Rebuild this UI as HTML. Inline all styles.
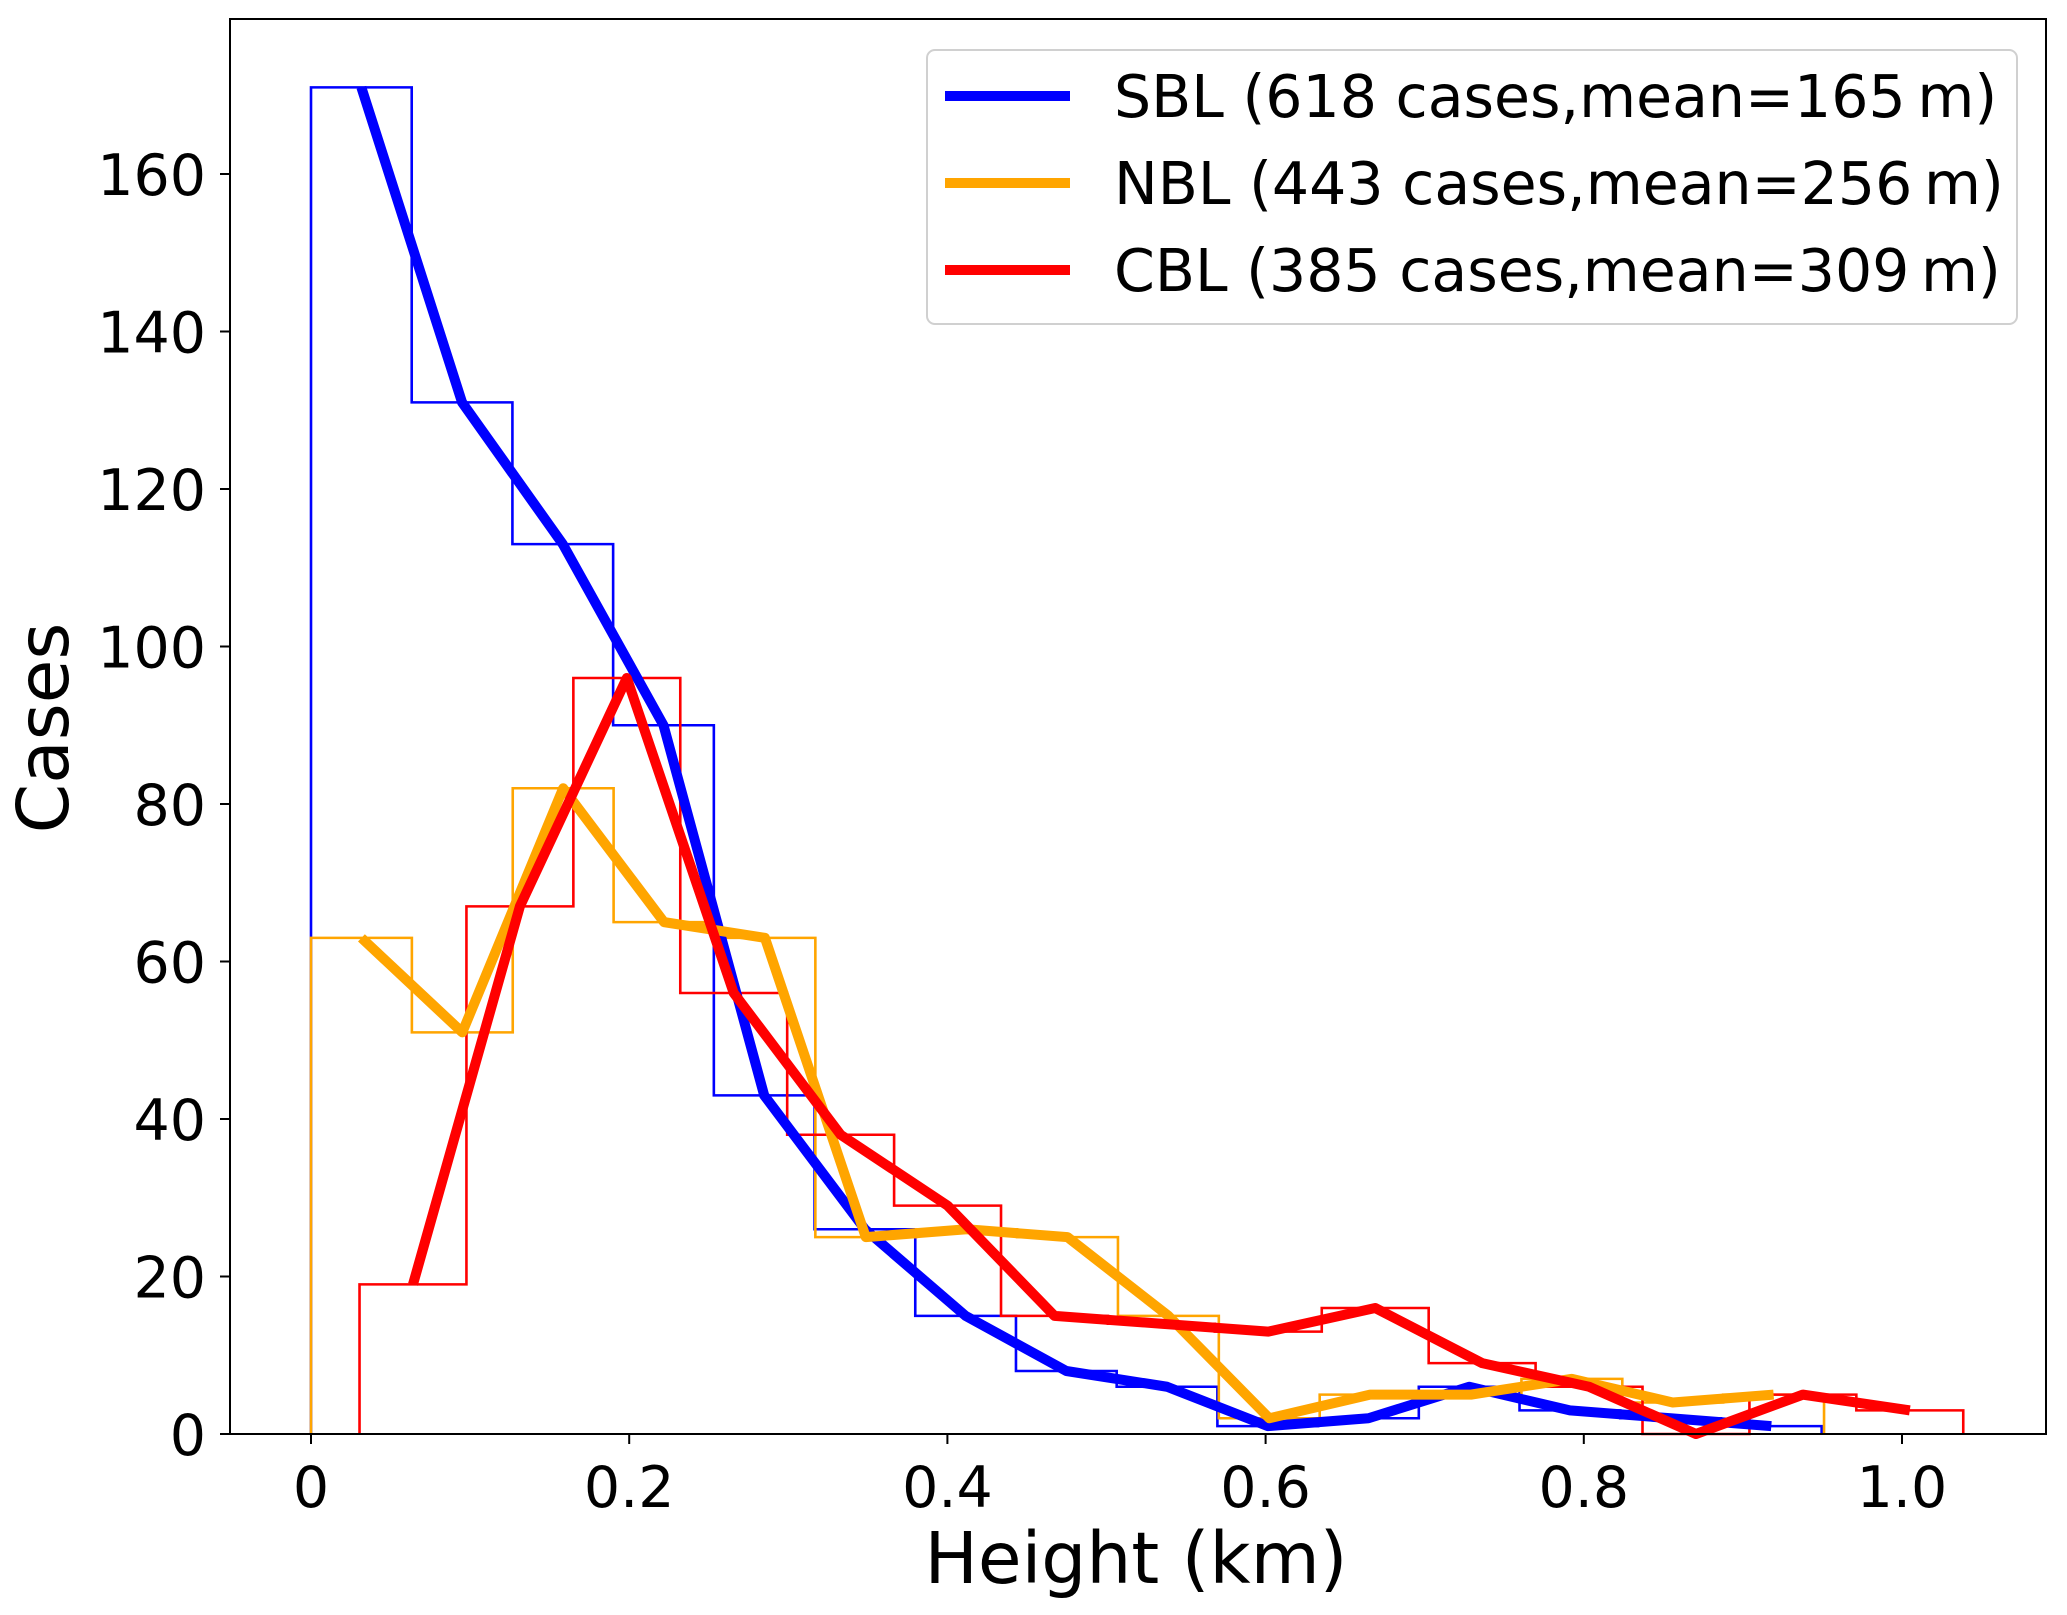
<!DOCTYPE html>
<html><head><meta charset="utf-8"><style>body{margin:0;background:#fff}svg{display:block}text{font-family:"DejaVu Sans","Liberation Sans",sans-serif;fill:#000}</style></head>
<body>
<svg id="chart" width="2067" height="1615" viewBox="0 0 2067 1615" xmlns="http://www.w3.org/2000/svg">
<rect width="2067" height="1615" fill="#fff"/>
<g id="plot"></g>
<g id="axes"></g>
<g id="legend"></g>
</svg>
<script>
const sblStart = 0, sblWidth = 0.0633;
const sblValues = [171,131,113,90,43,26,15,8,6,1,2,6,3,2,1];
const nblStart = 0, nblWidth = 0.0634;
const nblValues = [63,51,82,65,63,25,26,25,15,2,5,5,7,4,5];
const cblStart = 0.0305, cblWidth = 0.0672;
const cblValues = [19,67,96,56,38,29,15,14,13,16,9,6,0,5,3];
const xTicks = [0,0.2,0.4,0.6,0.8,1.0];
const xTickLabels = ["0","0.2","0.4","0.6","0.8","1.0"];
const yTicks = [0,20,40,60,80,100,120,140,160];
const legendLabels = ["SBL (618 cases,mean=165\u2009m)","NBL (443 cases,mean=256\u2009m)","CBL (385 cases,mean=309\u2009m)"];

const L=230,R=2046,T=19,B=1434;
const X=v=>311+v*1591;
const Y=v=>1434-v*7.875;
const NS="http://www.w3.org/2000/svg";
function mk(tag,attrs,parent){const e=document.createElementNS(NS,tag);for(const k in attrs)e.setAttribute(k,attrs[k]);parent.appendChild(e);return e;}
const plot=document.getElementById('plot'),axes=document.getElementById('axes'),leg=document.getElementById('legend');

const series=[
 {name:'sbl',start:sblStart,w:sblWidth,vals:sblValues,color:'#0000ff'},
 {name:'nbl',start:nblStart,w:nblWidth,vals:nblValues,color:'#ffa500'},
 {name:'cbl',start:cblStart,w:cblWidth,vals:cblValues,color:'#ff0000'}
];
series.forEach(s=>{
  let d='M'+X(s.start)+','+Y(0);
  s.vals.forEach((v,i)=>{d+=' L'+X(s.start+i*s.w)+','+Y(v)+' L'+X(s.start+(i+1)*s.w)+','+Y(v);});
  d+=' L'+X(s.start+s.vals.length*s.w)+','+Y(0);
  const h=mk('path',{d:d,fill:'none',stroke:s.color,'stroke-width':2.6},plot);
  
  
});
series.forEach(s=>{
  const pts=s.vals.map((v,i)=>X(s.start+(i+0.5)*s.w)+','+Y(v)).join(' ');
  const p=mk('polyline',{points:pts,fill:'none',stroke:s.color,'stroke-width':10,'stroke-linejoin':'round'},plot);
  
  
});
const frame=mk('rect',{x:L,y:T,width:R-L,height:B-T,fill:'none',stroke:'#000','stroke-width':2},axes);


xTicks.forEach((t,i)=>{
  mk('line',{x1:X(t),x2:X(t),y1:B,y2:B+10,stroke:'#000','stroke-width':2},axes);
  const tx=mk('text',{x:X(t),y:1507,'font-size':57,'text-anchor':'middle'},axes);
  tx.textContent=xTickLabels[i];
  
  
});
yTicks.forEach(t=>{
  mk('line',{x1:L-10,x2:L,y1:Y(t),y2:Y(t),stroke:'#000','stroke-width':2},axes);
  const tx=mk('text',{x:206,y:Y(t)+21,'font-size':57,'text-anchor':'end'},axes);
  tx.textContent=String(t);
  
  
});
const xl=mk('text',{x:1136,y:1583,'font-size':71,'text-anchor':'middle'},axes);
xl.textContent='Height (km)';


const yl=mk('text',{x:0,y:0,'font-size':71,'text-anchor':'middle',transform:'translate(68,728) rotate(-90)'},axes);
yl.textContent='Cases';


const box=mk('rect',{x:927,y:50,width:1090,height:274,rx:8,fill:'#fff',stroke:'#d0d0d0','stroke-width':2,'fill-opacity':0.85},leg);


series.forEach((s,i)=>{
  const y=96+i*87;
  const ln=mk('line',{x1:945,x2:1070,y1:y,y2:y,stroke:s.color,'stroke-width':10},leg);
  
  
  const tx=mk('text',{x:1114,y:y+21,'font-size':58.5},leg);
  tx.textContent=legendLabels[i];
  
  
});
</script>
</body></html>
